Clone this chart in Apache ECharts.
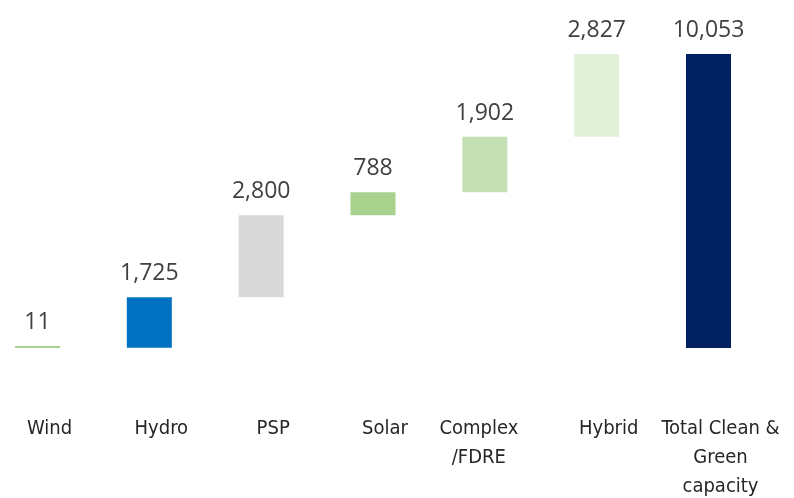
<!DOCTYPE html>
<html>
<head>
<meta charset="utf-8">
<script src="https://cdn.jsdelivr.net/npm/echarts@6/dist/echarts.min.js"></script>
<style>
html, body { margin: 0; padding: 0; background: #fff; }
#chart { width: 794px; height: 498px; }
</style>
</head>
<body>
<div id="chart"></div>
<script>
// 瀑布图数据
var categories = ['Wind', 'Hydro', 'PSP', 'Solar', 'Complex\n/FDRE', 'Hybrid', 'Total Clean &\nGreen\ncapacity'];
var values = [11, 1725, 2800, 788, 1902, 2827, 10053];
var colors = ['#a9d18e', '#0070c0', '#d9d9d9', '#a9d18e', '#c5e0b4', '#e2f0d9', '#002060'];

// 透明底座 = 前面各项累计，最后一项为总量从0开始
var base = [];
var acc = 0;
for (var i = 0; i < values.length; i++) {
    if (i === values.length - 1) {
        base.push(0);
    } else {
        base.push(acc);
        acc += values[i];
    }
}

// Complex/FDRE 标签在原图中略偏左
var xData = categories.map(function (c, i) {
    if (i === 4) {
        return { value: c, textStyle: { padding: [0, 12, 0, 0] } };
    }
    return c;
});

var chart = echarts.init(document.getElementById('chart'));
chart.setOption({
    animation: false,
    grid: { left: 37.5, right: 85.5, top: 54, bottom: 150, outerBoundsMode: 'none' },
    xAxis: {
        type: 'category',
        data: xData,
        boundaryGap: false,
        axisLine: { show: false },
        axisTick: { show: false },
        axisLabel: {
            interval: 0,
            margin: 66,
            color: '#262626',
            fontSize: 20,
            fontFamily: 'Liberation Sans Narrow, DejaVu Sans Condensed, sans-serif',
            lineHeight: 29,
            padding: [0, 0, 0, 24]
        }
    },
    yAxis: {
        type: 'value',
        min: 0,
        max: 10053,
        show: false,
        splitLine: { show: false }
    },
    series: [
        {
            type: 'bar',
            stack: 'w',
            data: base,
            barWidth: 45,
            itemStyle: { color: 'transparent' },
            silent: true
        },
        {
            type: 'bar',
            stack: 'w',
            barWidth: 45,
            barMinHeight: 2,
            data: values.map(function (v, i) {
                return { value: v, itemStyle: { color: colors[i] } };
            }),
            label: {
                show: true,
                position: 'top',
                distance: 12,
                color: '#404040',
                fontSize: 23,
                fontFamily: 'Open Sans',
                formatter: function (p) {
                    return p.value.toLocaleString('en-US');
                }
            }
        }
    ]
});
</script>
</body>
</html>
